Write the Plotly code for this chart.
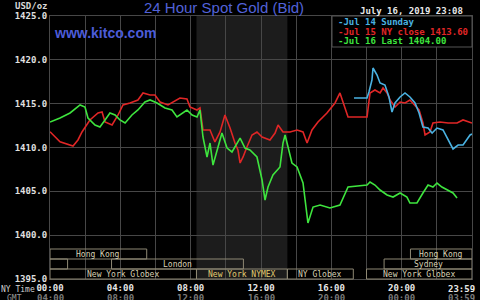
import plotly.graph_objects as go

# ---------------- data ----------------
jul14_h = [17.29, 18.03, 18.14, 18.31, 18.37, 18.60, 18.77, 19.05, 19.28, 19.45, 19.62, 19.91, 20.19, 20.47,
           20.76, 20.99, 21.21, 21.50, 21.73, 22.01, 22.35, 22.64, 22.92, 23.21, 23.49, 23.89, 24.0]
jul14_p = [1415.65, 1415.65, 1416.33, 1417.70, 1419.07, 1418.27, 1417.36, 1417.13, 1415.76, 1414.05, 1415.08,
           1415.76, 1416.22, 1415.76, 1415.08, 1413.94, 1412.34, 1412.22, 1411.65, 1412.22, 1412.00, 1410.86,
           1409.83, 1410.28, 1410.28, 1411.43, 1411.54]

jul15_h = [0, 0.57, 1.31, 1.59, 1.82, 2.10, 2.27, 2.73, 2.96, 3.13, 3.53, 3.87, 4.15, 4.55, 5.00, 5.29, 5.69,
           5.97, 6.26, 6.71, 7.00, 7.39, 7.79, 7.96, 8.36, 8.53, 8.70, 9.10, 9.38, 9.67, 9.95, 10.24, 10.52,
           10.69, 10.81, 10.98, 11.20, 11.49, 11.77, 12.06, 12.51, 12.80, 12.97, 13.25, 13.65, 14.05, 14.39,
           14.62, 14.90, 15.24, 15.75, 16.21, 16.49, 16.78, 16.95, 18.03, 18.20, 18.48, 18.77, 18.94, 19.17,
           19.34, 19.62, 19.91, 20.19, 20.47, 20.76, 20.99, 21.21, 21.33, 21.61, 21.78, 22.18, 22.64, 23.15,
           23.49, 24.0]
jul15_p = [1411.80, 1410.66, 1410.17, 1410.86, 1411.77, 1412.57, 1413.14, 1413.94, 1414.05, 1412.91, 1412.57,
           1413.71, 1414.85, 1415.08, 1415.42, 1416.22, 1415.99, 1415.99, 1415.19, 1414.85, 1415.19, 1415.65,
           1415.53, 1414.62, 1414.28, 1414.51, 1412.00, 1412.00, 1410.63, 1411.77, 1413.71, 1412.22, 1410.51,
           1409.71, 1408.23, 1408.92, 1410.06, 1411.43, 1411.77, 1411.20, 1410.86, 1411.65, 1412.57, 1411.77,
           1411.77, 1412.00, 1411.77, 1410.51, 1412.00, 1412.91, 1413.94, 1415.08, 1416.22, 1414.62, 1413.48,
           1413.48, 1416.22, 1416.56, 1416.22, 1416.79, 1416.22, 1415.42, 1414.62, 1415.19, 1415.08, 1415.42,
           1414.85, 1414.28, 1412.79, 1411.43, 1411.77, 1412.79, 1412.91, 1412.79, 1412.79, 1413.14, 1412.79]

jul16_h = [0, 0.57, 1.14, 1.54, 1.71, 1.99, 2.16, 2.56, 2.84, 3.13, 3.41, 3.70, 3.98, 4.27, 4.66, 5.00, 5.40,
           5.69, 6.09, 6.54, 6.94, 7.22, 7.51, 7.79, 8.08, 8.36, 8.53, 8.70, 8.93, 9.10, 9.27, 9.50, 9.78,
           10.07, 10.35, 10.81, 11.09, 11.37, 11.77, 12.06, 12.23, 12.40, 12.68, 13.08, 13.25, 13.37, 13.54,
           13.76, 14.05, 14.39, 14.67, 14.96, 15.36, 15.92, 16.49, 16.78, 16.95, 18.03, 18.20, 18.48, 18.77,
           19.17, 19.51, 19.91, 20.30, 20.47, 20.87, 21.21, 21.50, 21.78, 22.01, 22.29, 22.58, 22.92, 23.15]
jul16_p = [1412.91, 1413.37, 1413.94, 1414.62, 1414.85, 1414.62, 1413.37, 1412.57, 1412.34, 1413.14, 1413.94,
           1413.71, 1413.14, 1412.79, 1413.71, 1414.28, 1415.19, 1415.42, 1415.08, 1414.51, 1414.28, 1413.48,
           1413.94, 1414.28, 1413.71, 1413.48, 1414.28, 1411.20, 1408.92, 1410.51, 1408.00, 1409.71, 1411.65,
           1409.94, 1409.49, 1411.08, 1409.94, 1409.71, 1408.92, 1406.29, 1404.01, 1405.49, 1406.86, 1407.78,
           1410.51, 1411.43, 1410.06, 1408.23, 1407.78, 1405.95, 1401.39, 1403.21, 1403.44, 1403.10, 1403.44,
           1404.81, 1405.49, 1405.72, 1406.06, 1405.72, 1405.15, 1404.58, 1404.35, 1404.81, 1404.35, 1403.67,
           1403.67, 1404.81, 1405.72, 1405.49, 1405.95, 1405.49, 1405.15, 1404.81, 1404.24]

ny_close = 1413.60
last_price = 1404.00

ny_tick_hours = [0, 4, 8, 12, 16, 20]
ny_tick_labels = ["00:00", "04:00", "08:00", "12:00", "16:00", "20:00"]
gmt_tick_labels = ["04:00", "08:00", "12:00", "16:00", "20:00", "00:00"]
end_ny_label = "23:59"
end_gmt_label = "03:59"

y_ticks = [1395, 1400, 1405, 1410, 1415, 1420, 1425]

session_names = ["Hong Kong", "Hong Kong", "Sydney", "London", "Sydney",
                 "New York Globex", "New York NYMEX", "NY Globex", "New York Globex"]
session_start = [0.0, 20.5, 0.0, 3.5, 19.0, 0.0, 8.33, 13.5, 18.0]
session_end = [5.5, 24.0, 1.0, 11.0, 24.0, 8.33, 13.5, 17.25, 24.0]
session_row = [1, 1, 2, 2, 2, 3, 3, 3, 3]

nymex_start, nymex_end = 8.33, 13.5

# ---------------- figure ----------------
W, H = 480, 300
L, R, T, B = 50, 8, 16, 21
PW, PH = W - L - R, H - T - B


def px(xp):
    return (xp - L) / PW


def py(yp):
    return (H - B - yp) / PH


MONO = "DejaVu Sans Mono"
GRID = "#474747"
GMT_COLOR = "#7a7a7a"

fig = go.Figure()

fig.add_vrect(x0=nymex_start, x1=nymex_end, fillcolor="#1c1c1c", line_width=0, layer="below")

fig.add_trace(go.Scatter(x=jul15_h, y=jul15_p, mode="lines", line=dict(color="#e02626", width=1.6),
                         name="Jul 15 NY close"))
fig.add_trace(go.Scatter(x=jul16_h, y=jul16_p, mode="lines", line=dict(color="#3ee43e", width=1.6),
                         name="Jul 16 Last"))
fig.add_trace(go.Scatter(x=jul14_h, y=jul14_p, mode="lines", line=dict(color="#4ab2e2", width=1.6),
                         name="Jul 14 Sunday"))

# session boxes
row_h = 10 / PH
for name, s, e, r in zip(session_names, session_start, session_end, session_row):
    y0 = (3 - r) * row_h
    fig.add_shape(type="rect", xref="x", yref="paper", x0=s, x1=e, y0=y0, y1=y0 + row_h,
                  line=dict(color="#8e8874", width=1), fillcolor="rgba(0,0,0,0)", layer="above")
    if e - s >= 2:
        fig.add_annotation(x=(s + e) / 2, y=y0 + row_h / 2, xref="x", yref="paper", text=name,
                           showarrow=False, xanchor="center", yanchor="middle",
                           font=dict(family=MONO, size=8,
                                     color="#e2cc72" if "NYMEX" in name else "#d8d0b4"))

fig.update_xaxes(range=[0, 24], tickmode="array", tickvals=ny_tick_hours, ticktext=ny_tick_labels,
                 showgrid=True, gridcolor=GRID, gridwidth=1, zeroline=False, automargin=False,
                 minor=dict(dtick=2, showgrid=True, gridcolor=GRID, gridwidth=1),
                 showline=True, linecolor=GRID, mirror=True, ticks="",
                 tickfont=dict(family=MONO, size=9, color="#e8e8e8", weight="bold"))
fig.update_yaxes(range=[1395, 1425], tickmode="array", tickvals=y_ticks,
                 ticktext=[f"{v:.1f}" for v in y_ticks], automargin=False,
                 showgrid=True, gridcolor=GRID, gridwidth=1, zeroline=False,
                 showline=True, linecolor=GRID, mirror=True, ticks="",
                 tickfont=dict(family=MONO, size=9, color="#e0e0e0", weight="bold"))


def note(x, y, text, font, xanchor="center", xref="paper", xshift=0):
    fig.add_annotation(x=x, y=y, xref=xref, yref="paper", text=text, showarrow=False,
                       xanchor=xanchor, yanchor="middle", font=font, xshift=xshift)


NY_FONT = dict(family=MONO, size=9, color="#e8e8e8", weight="bold")
GMT_FONT = dict(family=MONO, size=9, color=GMT_COLOR, weight="bold")

# GMT row under the NY-time tick labels
for h, lab in zip(ny_tick_hours, gmt_tick_labels):
    note(h, py(298), lab, GMT_FONT, xref="x")

# end-of-day labels
note(24, py(288.5), end_ny_label, NY_FONT, xanchor="right", xref="x", xshift=5)
note(24, py(298), end_gmt_label, GMT_FONT, xanchor="right", xref="x", xshift=5)

# axis captions
note(px(31), py(5.5), "USD/oz", dict(family=MONO, size=9, color="#d8d8d8", weight="bold"))
note(px(18), py(289), "NY Time", dict(family=MONO, size=8, color="#d0d0d0"))
note(px(14), py(298), "GMT", dict(family=MONO, size=8, color="#9a9a9a"))

# titles
note(px(224), py(7.5), "24 Hour Spot Gold (Bid)", dict(family="Liberation Sans", size=15, color="#5262d8"))
note(px(52), py(33), "www.kitco.com",
     dict(family="Liberation Sans", size=14, color="#4c5cd8", weight="bold"), xanchor="left")
note(px(465), py(10.5), "July 16, 2019 23:08",
     dict(family=MONO, size=9, color="#e8e8e8", weight="bold"), xanchor="right")

# legend box
fig.add_shape(type="rect", xref="paper", yref="paper", x0=px(332), x1=1, y0=py(47), y1=1,
              line=dict(color="#555555", width=1), fillcolor="black", layer="above")
legend_items = [("-Jul 14 Sunday", "#4ab2e2"),
                (f"-Jul 15 NY close {ny_close:.2f}", "#e02626"),
                (f"-Jul 16 Last {last_price:.2f}", "#3ee43e")]
for i, (txt, col) in enumerate(legend_items):
    note(px(336), py(22 + 9.5 * i), txt, dict(family=MONO, size=9, color=col, weight="bold"), xanchor="left")

fig.update_layout(width=W, height=H, margin=dict(l=L, r=R, t=T, b=B, autoexpand=False),
                  paper_bgcolor="black", plot_bgcolor="black", showlegend=False)

fig.write_html("out.html")
